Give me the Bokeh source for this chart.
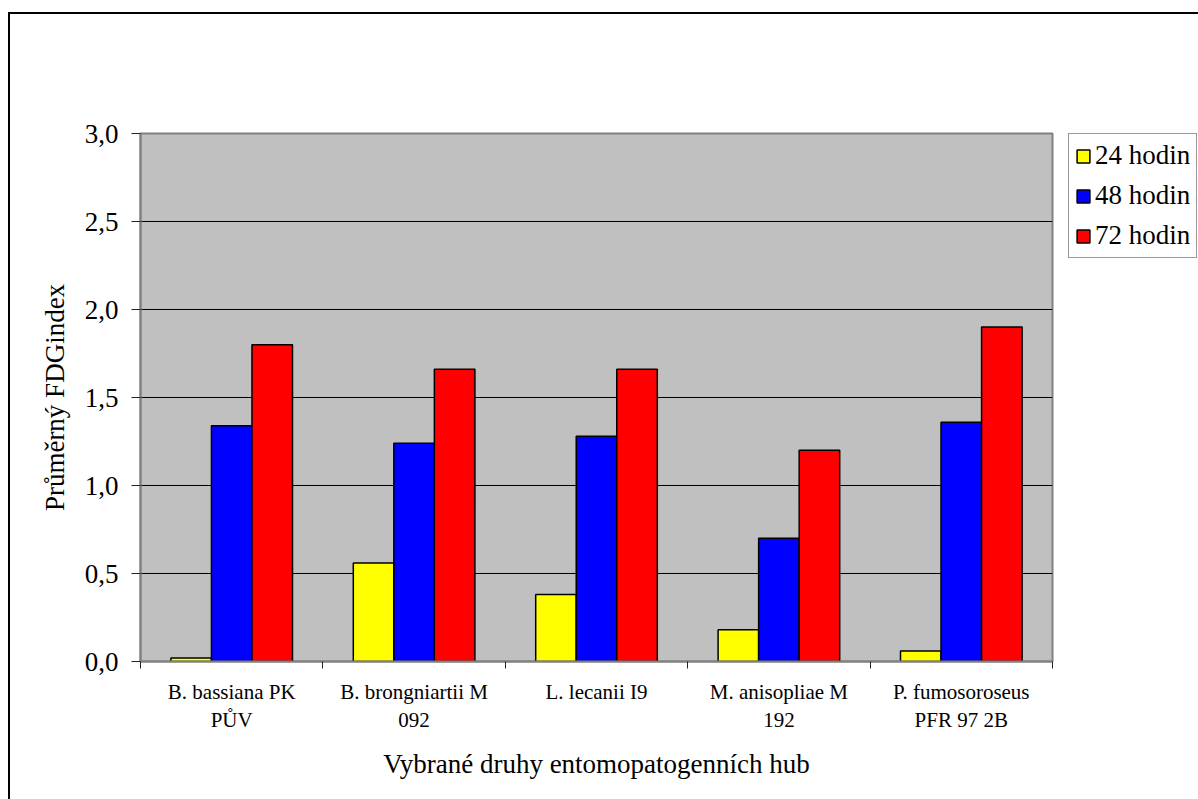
from bokeh.plotting import figure
from bokeh.models import Range1d, FixedTicker, Legend, LegendItem, ColumnDataSource, InlineStyleSheet
from bokeh.embed import file_html
from bokeh.resources import INLINE

categories = ["B. bassiana PK\nPŮV", "B. brongniartii M\n092", "L. lecanii I9",
              "M. anisopliae M\n192", "P. fumosoroseus\nPFR 97 2B"]
series_names = ["24 hodin", "48 hodin", "72 hodin"]
values_24 = [0.02, 0.56, 0.38, 0.18, 0.06]
values_48 = [1.34, 1.24, 1.28, 0.70, 1.36]
values_72 = [1.80, 1.66, 1.66, 1.20, 1.90]
series_values = [values_24, values_48, values_72]
series_colors = ["#FFFF00", "#0000FF", "#FF0000"]
y_ticks = [0.0, 0.5, 1.0, 1.5, 2.0, 2.5, 3.0]
y_tick_labels = ["0,0", "0,5", "1,0", "1,5", "2,0", "2,5", "3,0"]
x_title = "Vybrané druhy entomopatogenních hub"
y_title = "Průměrný FDGindex"

FONT = "Liberation Serif"
BIG = "27px"
SMALL = "21px"
n = len(categories)
bar_w = 1 / 4.5

frame_css = InlineStyleSheet(css="""
:host::after {
  content: "";
  position: absolute;
  left: 8px; top: 12px; right: 0px; bottom: 0px;
  border-left: 2px solid #000;
  border-top: 2px solid #000;
  pointer-events: none;
  z-index: 10;
}
""")

p = figure(width=1198, height=799, frame_width=912, frame_height=528,
           output_backend="svg", toolbar_location=None,
           x_range=Range1d(0, n), y_range=Range1d(0, 3),
           min_border_left=140, min_border_right=146, min_border_top=133, min_border_bottom=138,
           stylesheets=[frame_css])
p.background_fill_color = "#C0C0C0"
p.border_fill_color = "white"
p.outline_line_color = "#808080"
p.outline_line_width = 2

renderers = []
for k, (vals, col) in enumerate(zip(series_values, series_colors)):
    xs = [i + 0.5 + (k - 1) * bar_w for i in range(n)]
    src = ColumnDataSource(dict(x=xs, top=vals))
    r = p.vbar(x="x", top="top", width=bar_w, bottom=0, source=src,
               fill_color=col, line_color="black", line_width=1.5)
    renderers.append(r)

p.xgrid.visible = False
p.ygrid.ticker = FixedTicker(ticks=y_ticks)
p.ygrid.grid_line_color = "black"
p.ygrid.grid_line_width = 1

# y axis
ya = p.yaxis[0]
ya.ticker = FixedTicker(ticks=y_ticks)
ya.major_label_overrides = {t: l for t, l in zip(y_ticks, y_tick_labels)}
ya.axis_line_color = "#808080"
ya.axis_line_width = 2
ya.major_tick_out = 9
ya.major_tick_in = 0
ya.major_tick_line_color = "#222222"
ya.minor_tick_line_color = None
ya.major_label_text_font = FONT
ya.major_label_text_font_size = BIG
ya.major_label_text_color = "black"
ya.major_label_standoff = 13
ya.axis_label = y_title
ya.axis_label_text_font = FONT
ya.axis_label_text_font_size = BIG
ya.axis_label_text_font_style = "normal"
ya.axis_label_text_color = "black"
ya.axis_label_standoff = 12

# x axis
xa = p.xaxis[0]
xa.ticker = FixedTicker(ticks=[i + 0.5 for i in range(n)], minor_ticks=list(range(n + 1)))
xa.major_label_overrides = {i + 0.5: c for i, c in enumerate(categories)}
xa.axis_line_color = "#808080"
xa.axis_line_width = 2
xa.major_tick_out = 0
xa.major_tick_in = 0
xa.major_tick_line_color = None
xa.minor_tick_out = 7
xa.minor_tick_in = 0
xa.minor_tick_line_color = "#222222"
xa.major_label_text_font = FONT
xa.major_label_text_font_size = SMALL
xa.major_label_text_color = "black"
xa.major_label_standoff = 11
xa.axis_label = x_title
xa.axis_label_text_font = FONT
xa.axis_label_text_font_size = BIG
xa.axis_label_text_font_style = "normal"
xa.axis_label_text_color = "black"
xa.axis_label_standoff = 14

legend = Legend(items=[LegendItem(label=s, renderers=[r]) for s, r in zip(series_names, renderers)],
                location=(16, 403))
legend.label_text_font = FONT
legend.label_text_font_size = BIG
legend.label_text_color = "black"
legend.glyph_width = 16
legend.glyph_height = 16
legend.label_standoff = 4
legend.padding = 6
legend.spacing = 9
legend.margin = 0
legend.border_line_color = "#333333"
legend.border_line_width = 1
legend.background_fill_color = "white"
legend.background_fill_alpha = 1
p.add_layout(legend, "right")

open("out.html", "w").write(file_html(p, INLINE))
